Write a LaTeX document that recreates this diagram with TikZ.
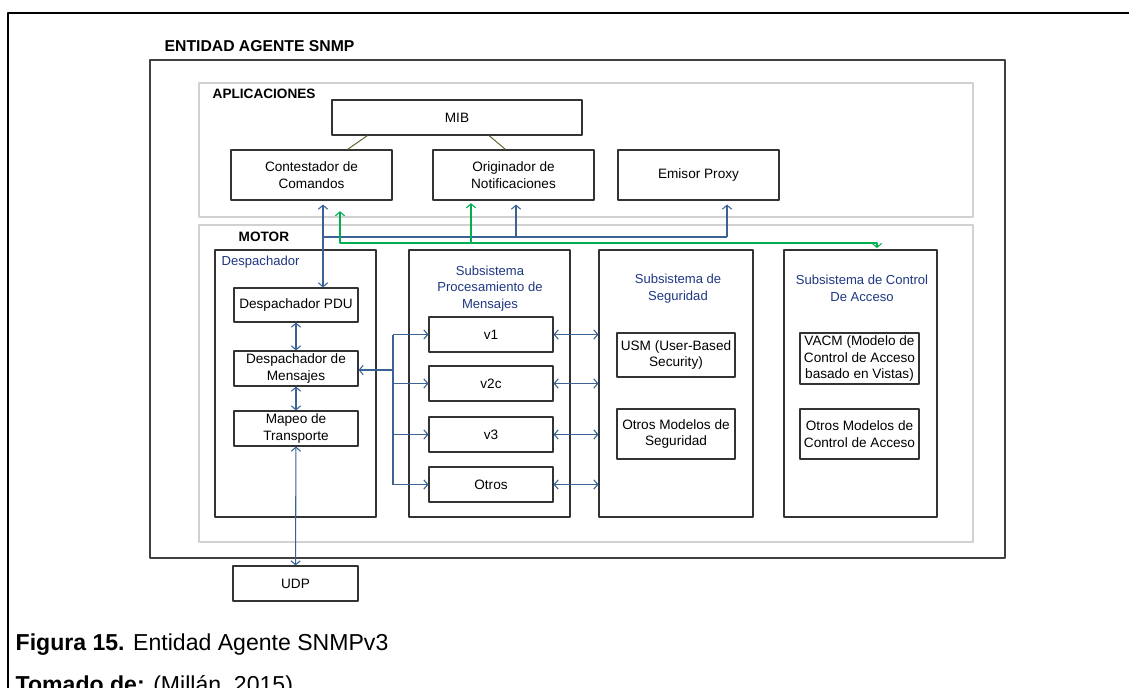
\documentclass[tikz,border=0pt]{standalone}
\usepackage{fontspec}
\setmainfont{Liberation Sans}
\usetikzlibrary{arrows.meta}

\definecolor{azullinea}{RGB}{58,98,148}
\definecolor{azultexto}{RGB}{31,56,130}
\definecolor{verdelinea}{RGB}{0,176,80}
\definecolor{verdemib}{RGB}{79,98,40}

\begin{document}
\begin{tikzpicture}[
        x = 0.75pt, y = -0.75pt,
        line join=round,
        font = \fontsize{10.2}{12.5}\selectfont,
        >={Straight Barb[length=3pt,width=7pt]},
        caja/.style = {draw=black!80, line width=0.8pt, fill=white, align=center, inner sep=0pt},
        marco/.style = {draw=black!18, line width=1.3pt, inner sep=0pt},
        bloque/.style = {caja, minimum height=200.25pt},
        aplic/.style = {caja, minimum width=120.75pt, minimum height=37.5pt},
        version/.style = {caja, minimum width=93pt, minimum height=26.25pt},
        modelo/.style = {caja, minimum width=88.5pt},
        titulo/.style = {font=\bfseries\fontsize{10.2}{12}\selectfont, anchor=west},
        etiqueta/.style = {text=azultexto, align=center, font=\fontsize{9.8}{12.6}\selectfont},
        flechab/.style = {azullinea, line width=0.8pt},
        flechav/.style = {verdelinea, line width=0.8pt},
        lineamib/.style = {verdemib, line width=0.7pt},
        pie/.style = {anchor=base west, font=\fontsize{17.3}{20}\selectfont}
    ]

    \useasboundingbox (0,0) rectangle (1129,688);
    \draw[line width=2pt] (8,688) -- (8,13) -- (1129,13);

    % contenedores
    \node[draw=black!75, line width=1pt, minimum width=641.25pt, minimum height=373.5pt] (entidad) at (577.5,309) {};
    \node[titulo, font=\bfseries\fontsize{11.8}{14}\selectfont] (tentidad) at (160,46) {ENTIDAD AGENTE SNMP};
    \node[marco, minimum width=580.5pt, minimum height=100.5pt] (aplicaciones) at (586,150) {};
    \node[titulo] (taplicaciones) at (208,94) {APLICACIONES};
    \node[marco, minimum width=580.5pt, minimum height=237.75pt] (motor) at (586,383.5) {};
    \node[titulo] (tmotor) at (234,237) {MOTOR};

    % aplicaciones
    \node[caja, minimum width=187.5pt, minimum height=26.25pt] (mib) at (457,117.5) {MIB};
    \node[aplic] (contestador) at (311.5,175) {Contestador de\\Comandos};
    \node[aplic] (originador) at (513.5,175) {Originador de\\Notificaciones};
    \node[aplic] (proxy) at (698.5,175) {Emisor Proxy};

    % subsistemas del motor
    \node[bloque, minimum width=120.75pt] (despachador) at (295.5,383.5) {};
    \node[bloque, minimum width=120.75pt] (procesamiento) at (489.5,383.5) {};
    \node[bloque, minimum width=115.5pt] (seguridad) at (676,383.5) {};
    \node[bloque, minimum width=114.75pt] (control) at (860.5,383.5) {};

    \node[etiqueta, anchor=west] (tdespachador) at (217,262) {Despachador};
    \node[etiqueta] (tprocesamiento) at (490,288.5) {Subsistema\\Procesamiento de\\Mensajes};
    \node[etiqueta] (tseguridad) at (678,288.5) {Subsistema de\\Seguridad};
    \node[etiqueta] (tcontrol) at (862,288.5) {Subsistema de Control\\De Acceso};

    \node[version, minimum height=25.5pt] (pdu) at (296,305) {Despachador PDU};
    \node[version] (mensajes) at (296,368.5) {Despachador de\\Mensajes};
    \node[version] (mapeo) at (296,428.5) {Mapeo de\\Transporte};

    \node[version] (v1) at (491,334.5) {v1};
    \node[version] (v2c) at (491,383.5) {v2c};
    \node[version] (v3) at (491,434.5) {v3};
    \node[version] (otros) at (491,484.5) {Otros};

    \node[modelo, minimum height=33pt] (usm) at (676,355) {USM (User-Based\\Security)};
    \node[modelo, minimum height=37.5pt] (otrosseg) at (676,434) {Otros Modelos de\\Seguridad};
    \node[modelo, minimum width=89.25pt, minimum height=38.25pt] (vacm) at (859.5,358.5) {VACM (Modelo de\\Control de Acceso\\basado en Vistas)};
    \node[modelo, minimum width=89.25pt, minimum height=37.5pt] (otrosctrl) at (859.5,434) {Otros Modelos de\\Control de Acceso};

    \node[version, minimum width=93.75pt] (udp) at (295.5,583.5) {UDP};

    % enlaces con el MIB
    \draw[lineamib] ([xshift=27pt]mib.south west) -- ([xshift=27pt]contestador.north);
    \draw[lineamib] ([xshift=24pt]mib.south) -- ([xshift=-6pt]originador.north);

    % bus azul hacia las aplicaciones
    \coordinate (b1) at (323,237);
    \coordinate (b2) at (516,237);
    \coordinate (b3) at (727,237);
    \draw[flechab, <->, shorten <=3pt] (contestador.south -| b1) -- (pdu.north -| b1);
    \draw[flechab] (b1) -- (b3);
    \draw[flechab, ->, shorten >=3pt] (b2) -- (originador.south -| b2);
    \draw[flechab, ->, shorten >=3pt] (b3) -- (proxy.south -| b3);

    % bus verde
    \coordinate (g1) at (340,243);
    \coordinate (g2) at (471,243);
    \coordinate (g3) at (877,243);
    \draw[flechav, <->, shorten <=8pt, shorten >=1pt] (contestador.south -| g1) -- (g1) -- (g3) -- (control.north -| g3);
    \draw[flechav, ->, shorten >=2pt] (g2) -- (originador.south -| g2);

    % despachador
    \draw[flechab, <->] (pdu) -- (mensajes);
    \draw[flechab, <->] (mensajes) -- (mapeo);
    \draw[flechab, <->] (mapeo) -- (udp);

    % hacia el procesamiento de mensajes
    \coordinate (m0) at (393,370);
    \draw[flechab, <-] (mensajes.east |- m0) -- (m0);
    \draw[flechab] (m0 |- v1.west) -- (m0 |- otros.west);
    \foreach \v in {v1,v2c,v3,otros}
        \draw[flechab, ->] (m0 |- \v.west) -- (\v.west);
    \foreach \v in {v1,v2c,v3,otros}
        \draw[flechab, <->] (\v.east) -- (\v.east -| seguridad.west);

    % pie de figura
    \node[pie] (pie) at (11,650) {\textbf{Figura 15.} Entidad Agente SNMPv3};
    \node[pie] (fuente) at (11,692) {\textbf{Tomado de:} (Millán, 2015)};

\end{tikzpicture}
\end{document}
